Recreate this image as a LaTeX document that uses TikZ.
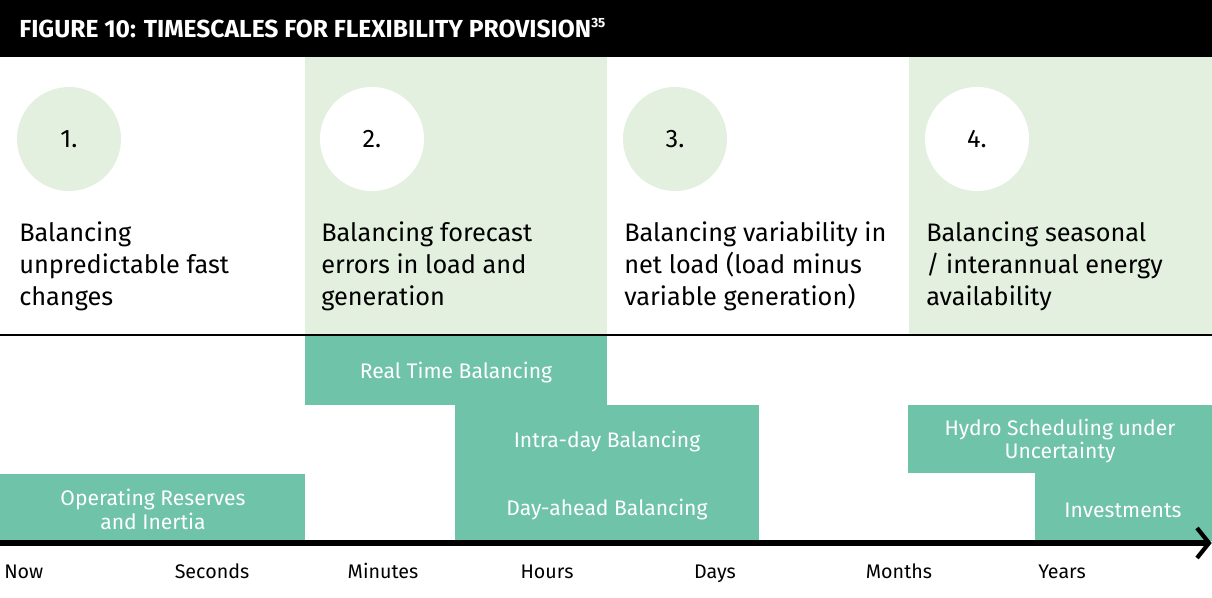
\documentclass[tikz,border=0pt]{standalone}
\usepackage{fontspec}
\setmainfont{Fira Sans}
\usepackage{xcolor}
\definecolor{paleleaf}{HTML}{E4F0DF}
\definecolor{sage}{HTML}{6FC3A8}

\begin{document}
\begin{tikzpicture}
[x=0.025cm,y=-0.025cm,
 header/.style={anchor=base west,text=white,inner sep=0pt,font=\bfseries\fontsize{17.5}{20}\selectfont},
 phase/.style={circle,inner sep=0pt,minimum size=2.6cm,font=\fontsize{18}{22}\selectfont},
 aim/.style={anchor=north west,align=left,inner sep=0pt,font=\fontsize{18}{22.8}\selectfont},
 slot/.style={text=white,align=center,inner sep=0pt,font=\fontsize{15}{17}\selectfont},
 tick/.style={anchor=base,inner sep=0pt,font=\fontsize{14}{16}\selectfont}]
\useasboundingbox (0,0) rectangle (1212,598);
% title band and shaded columns
\fill[black]    (0,0)   rectangle (1212,57);
\fill[paleleaf] (305,57) rectangle (607,335);
\fill[paleleaf] (909,57) rectangle (1212,335);
\node[header] (title) at (19,37)
  {FIGURE 10: TIMESCALES FOR FLEXIBILITY PROVISION\raisebox{6.5pt}{\fontsize{9.5}{10}\selectfont 35}};
% the four balancing needs
\node[phase,fill=paleleaf] (P1) at ( 69,139) {1.};
\node[phase,fill=white]    (P2) at (372,139) {2.};
\node[phase,fill=paleleaf] (P3) at (675,139) {3.};
\node[phase,fill=white]    (P4) at (977,139) {4.};
\node[aim] (A1) at ( 19,221) {Balancing\\unpredictable fast\\changes};
\node[aim] (A2) at (321,221) {Balancing forecast\\errors in load and\\generation};
\node[aim] (A3) at (624,221) {Balancing variability in\\net load (load minus\\variable generation)};
\node[aim] (A4) at (926,221) {Balancing seasonal\\/ interannual energy\\availability};
\coordinate (split-l) at (0,335);
\coordinate (split-r) at (1212,335);
\draw[line width=1pt] (split-l) -- (split-r);
% services along the time axis
\fill[sage] (305,336)  rectangle (607,405);
\fill[sage] (455,405)  rectangle (759,541);
\fill[sage] (0,474)    rectangle (305,541);
\fill[sage] (908,405)  rectangle (1212,473);
\fill[sage] (1035,473) rectangle (1212,541);
\node[slot] (S-rt)    at ( 456,373) {Real Time Balancing};
\node[slot] (S-intra) at ( 607,442) {Intra-day Balancing};
\node[slot] (S-ahead) at ( 607,510) {Day-ahead Balancing};
\node[slot] (S-res)   at ( 153,509) {Operating Reserves\\and Inertia};
\node[slot] (S-hydro) at (1060,441) {Hydro Scheduling under\\Uncertainty};
\node[slot] (S-inv)   at (1123,510) {Investments};
% time axis
\coordinate (now)   at (0,543);
\coordinate (later) at (1209,543);
\draw[line width=3.6pt] (now) -- (later);
\draw[line width=3pt] (1197,528) -- (later) -- (1197,558);
\node[tick,anchor=base west] (T0) at (4,578) {Now};
\node[tick] (T1) at ( 212,578) {Seconds};
\node[tick] (T2) at ( 383,578) {Minutes};
\node[tick] (T3) at ( 547,578) {Hours};
\node[tick] (T4) at ( 715,578) {Days};
\node[tick] (T5) at ( 899,578) {Months};
\node[tick] (T6) at (1062,578) {Years};
\end{tikzpicture}
\end{document}
